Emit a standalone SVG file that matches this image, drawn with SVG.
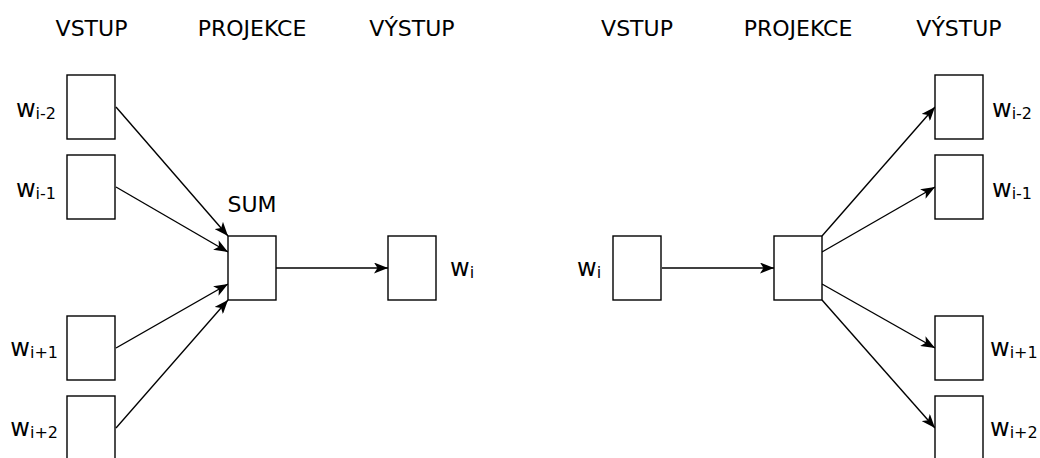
<svg xmlns="http://www.w3.org/2000/svg" width="1040" height="458" viewBox="0 0 1040 458">
  <style>
    .box { fill: #ffffff; stroke: #000000; stroke-width: 1.4; }
    .t { font-family: "DejaVu Sans", Verdana, sans-serif; font-size: 22px; fill: #000000; }
    .w { font-size: 24px; }
    .sub { font-size: 16px; }
    .c { fill: none; stroke: #000000; stroke-width: 1.4; marker-end: url(#arr); }
  </style>
  <defs>
    <marker id="arr" markerUnits="userSpaceOnUse" viewBox="0 0 14 11" refX="14" refY="5.5" markerWidth="14" markerHeight="11" orient="auto">
      <path d="M0,0 L14,5.5 L0,11 L3.5,5.5 z" fill="#000000"/>
    </marker>
  </defs>
  <rect width="1040" height="458" fill="#ffffff"/>

  <g id="headers">
    <text class="t" x="91.5" y="36" text-anchor="middle">VSTUP</text>
    <text class="t" x="252" y="36" text-anchor="middle">PROJEKCE</text>
    <text class="t" x="412" y="36" text-anchor="middle">VÝSTUP</text>
    <text class="t" x="637" y="36" text-anchor="middle">VSTUP</text>
    <text class="t" x="798" y="36" text-anchor="middle">PROJEKCE</text>
    <text class="t" x="959" y="36" text-anchor="middle">VÝSTUP</text>
  </g>

  <g id="connectors">
    <line class="c" x1="116" y1="107" x2="228" y2="236"/>
    <line class="c" x1="116" y1="187" x2="228" y2="252"/>
    <line class="c" x1="116" y1="348" x2="228" y2="284"/>
    <line class="c" x1="116" y1="428" x2="228" y2="300"/>
    <line class="c" x1="276" y1="268" x2="388" y2="268"/>
    <line class="c" x1="662" y1="268" x2="774" y2="268"/>
    <line class="c" x1="822" y1="236" x2="935" y2="107"/>
    <line class="c" x1="822" y1="252" x2="935" y2="187"/>
    <line class="c" x1="822" y1="284" x2="935" y2="348"/>
    <line class="c" x1="822" y1="300" x2="935" y2="428"/>
  </g>

  <g id="left-in-1">
    <rect class="box" x="67" y="75" width="48" height="64"/>
    <text class="t w" x="56" y="117" text-anchor="end">w<tspan class="sub" dy="2">i-2</tspan></text>
  </g>
  <g id="left-in-2">
    <rect class="box" x="67" y="155" width="48" height="64"/>
    <text class="t w" x="56" y="197" text-anchor="end">w<tspan class="sub" dy="2">i-1</tspan></text>
  </g>
  <g id="left-in-3">
    <rect class="box" x="67" y="316" width="48" height="64"/>
    <text class="t w" x="58" y="356" text-anchor="end">w<tspan class="sub" dy="2">i+1</tspan></text>
  </g>
  <g id="left-in-4">
    <rect class="box" x="67" y="396" width="48" height="64"/>
    <text class="t w" x="58" y="436" text-anchor="end">w<tspan class="sub" dy="2">i+2</tspan></text>
  </g>
  <g id="left-sum">
    <rect class="box" x="228" y="236" width="48" height="64"/>
    <text class="t" x="252" y="212" text-anchor="middle">SUM</text>
  </g>
  <g id="left-out">
    <rect class="box" x="388" y="236" width="48" height="64"/>
    <text class="t w" x="450" y="276">w<tspan class="sub" dy="2">i</tspan></text>
  </g>

  <g id="right-in">
    <rect class="box" x="613" y="236" width="48" height="64"/>
    <text class="t w" x="577" y="276">w<tspan class="sub" dy="2">i</tspan></text>
  </g>
  <g id="right-proj">
    <rect class="box" x="774" y="236" width="48" height="64"/>
  </g>
  <g id="right-out-1">
    <rect class="box" x="935" y="75" width="48" height="64"/>
    <text class="t w" x="992" y="117">w<tspan class="sub" dy="2">i-2</tspan></text>
  </g>
  <g id="right-out-2">
    <rect class="box" x="935" y="155" width="48" height="64"/>
    <text class="t w" x="992" y="197">w<tspan class="sub" dy="2">i-1</tspan></text>
  </g>
  <g id="right-out-3">
    <rect class="box" x="935" y="316" width="48" height="64"/>
    <text class="t w" x="990" y="356">w<tspan class="sub" dy="2">i+1</tspan></text>
  </g>
  <g id="right-out-4">
    <rect class="box" x="935" y="396" width="48" height="64"/>
    <text class="t w" x="990" y="436">w<tspan class="sub" dy="2">i+2</tspan></text>
  </g>
</svg>
